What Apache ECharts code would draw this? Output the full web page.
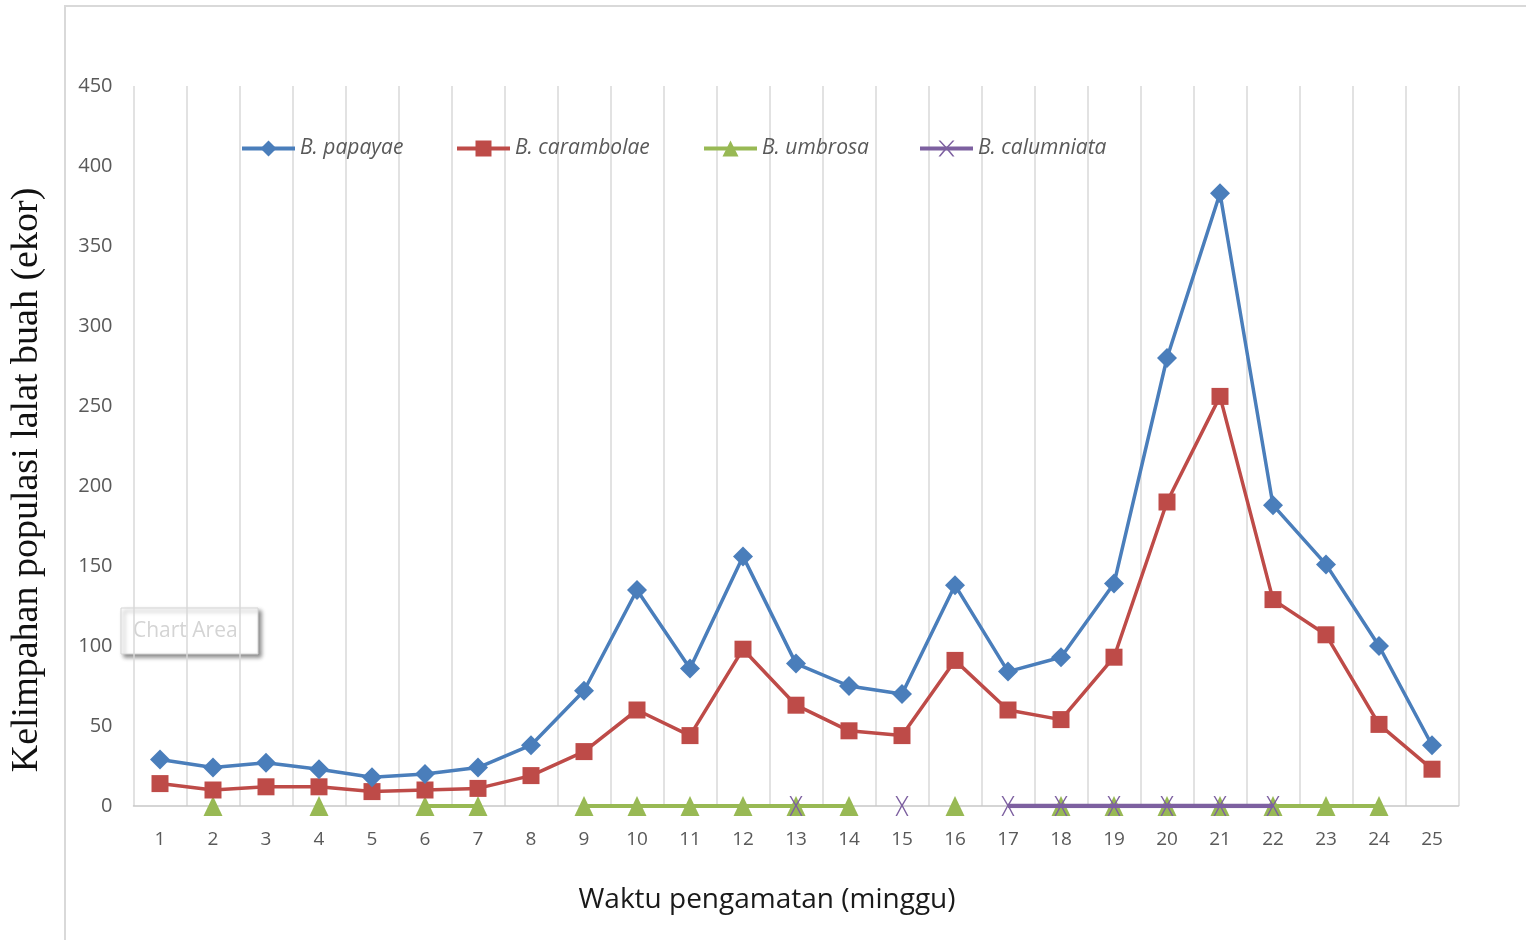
<!DOCTYPE html>
<html>
<head>
<meta charset="utf-8">
<script src="https://cdn.jsdelivr.net/npm/echarts@6/dist/echarts.min.js"></script>
<style>html,body{margin:0;padding:0;background:#fff}#c{width:1526px;height:940px}</style>
</head>
<body>
<div id="c"></div>
<script>
const weeks = ['1','2','3','4','5','6','7','8','9','10','11','12','13','14','15','16','17','18','19','20','21','22','23','24','25'];
const papayae = [29,24,27,23,18,20,24,38,72,135,86,156,89,75,70,138,84,93,139,280,383,188,151,100,38];
const carambolae = [14,10,12,12,9,10,11,19,34,60,44,98,63,47,44,91,60,54,93,190,256,129,107,51,23];
const umbrosa = [null,0,null,0,null,0,0,null,0,0,0,0,0,0,null,0,null,0,0,0,0,0,0,0,null];
const calumniata = [null,null,null,null,null,null,null,null,null,null,null,null,0,null,0,null,0,0,0,0,0,0,null,null,null];
const seriesNames = ['B. papayae','B. carambolae','B. umbrosa','B. calumniata'];
const yTicks = {min:0, max:450, interval:50};

const xPath = 'path://M0,0 L1.2,0 L5,8.2 L8.8,0 L10,0 L5.7,9.5 L10,20 L8.8,20 L5,10.8 L1.2,20 L0,20 L4.3,9.5 Z';
const colors = ['#4a7ebb','#be4b48','#98b954','#7d60a0'];
const legendLefts = [240, 455, 702, 918];
const lineWidths = [3.5, 3.5, 4, 4.5];

const chart = echarts.init(document.getElementById('c'));
const option = {
  animation: false,
  backgroundColor: '#fff',
  grid: {left: 133.5, right: 67.5, top: 86, bottom: 134},
  legend: seriesNames.map((n, i) => ({
    data: [n], left: legendLefts[i], top: 138, padding: 0,
    itemWidth: 53, itemHeight: 20, itemGap: 5,
    lineStyle: {width: 4},
    textStyle: {fontFamily: 'Open Sans', fontStyle: 'italic', fontSize: 21, color: '#595959'}
  })),
  xAxis: {
    type: 'category', data: weeks, boundaryGap: true,
    axisLine: {lineStyle: {color: '#c8c8c8', width: 1.5}},
    axisTick: {show: false},
    axisLabel: {color: '#595959', fontFamily: 'Open Sans', fontSize: 19, margin: 24, interval: 0},
    splitLine: {show: true, interval: 0, lineStyle: {color: '#d9d9d9', width: 1.5}}
  },
  yAxis: {
    type: 'value', min: yTicks.min, max: yTicks.max, interval: yTicks.interval,
    axisLine: {show: false}, axisTick: {show: false},
    splitLine: {show: false},
    axisLabel: {color: '#595959', fontFamily: 'Open Sans', fontSize: 20, margin: 21}
  },
  series: [
    {name: seriesNames[0], type: 'line', data: papayae, symbol: 'diamond', symbolSize: 20,
     lineStyle: {color: colors[0], width: lineWidths[0]}, itemStyle: {color: colors[0]}, z: 4},
    {name: seriesNames[1], type: 'line', data: carambolae, symbol: 'rect', symbolSize: 17,
     lineStyle: {color: colors[1], width: lineWidths[1]}, itemStyle: {color: colors[1]}, z: 3},
    {name: seriesNames[2], type: 'line', data: umbrosa, symbol: 'triangle', symbolSize: [19,20],
     connectNulls: false,
     lineStyle: {color: colors[2], width: lineWidths[2]}, itemStyle: {color: colors[2]}, z: 2},
    {name: seriesNames[3], type: 'line', data: calumniata, symbol: xPath, symbolSize: [13,20],
     connectNulls: false,
     lineStyle: {color: colors[3], width: lineWidths[3]}, itemStyle: {color: colors[3]}, z: 5}
  ],
  graphic: [
    {type: 'polyline', shape: {points: [[65,940],[65,6],[1526,6]]}, style: {stroke: '#d9d9d9', lineWidth: 2, fill: null}, z: 0},
    {type: 'text', x: 27, y: 480, rotation: Math.PI/2,
     style: {text: 'Kelimpahan populasi lalat buah (ekor)', fontFamily: 'Liberation Serif', fontSize: 38, fill: '#111', align: 'center', verticalAlign: 'middle'}},
    {type: 'text', x: 767, y: 900,
     style: {text: 'Waktu pengamatan (minggu)', fontFamily: 'Open Sans', fontSize: 28, fill: '#1a1a1a', align: 'center', verticalAlign: 'middle'}},
    {type: 'group', z: 100, children: [
      {type: 'rect', shape: {x: 121, y: 608, width: 137, height: 46},
       style: {fill: '#fff', stroke: '#d4d4d4', lineWidth: 1, shadowBlur: 4, shadowOffsetX: 3, shadowOffsetY: 3, shadowColor: 'rgba(0,0,0,0.45)'}},
      {type: 'text', x: 133, y: 631,
       style: {text: 'Chart Area', fontFamily: 'Open Sans', fontSize: 21, fill: '#d4d4d4', verticalAlign: 'middle'}}
    ]}
  ]
};
chart.setOption(option);
</script>
</body>
</html>
